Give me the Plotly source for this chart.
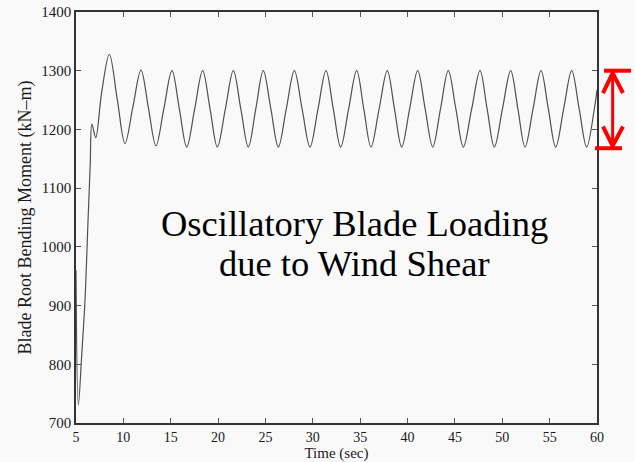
import plotly.graph_objects as go

# Time (sec) and blade root bending moment (kN-m)
time_s = [5.0, 5.25, 5.6, 5.95, 6.27, 6.5, 6.68, 7.08, 7.7, 8.52, 9.35, 10.17, 11.0, 11.86,
          12.65, 13.44, 14.28, 15.13, 15.91, 16.69, 17.53, 18.37, 19.15, 19.92, 20.77, 21.61,
          22.4, 23.19, 23.98, 24.77, 25.57, 26.36, 27.2, 28.05, 28.87, 29.7, 30.55, 31.39,
          32.16, 32.94, 33.78, 34.63, 35.38, 36.14, 37.0, 37.86, 38.62, 39.38, 40.22, 41.07,
          41.86, 42.66, 43.48, 44.3, 45.1, 45.89, 46.77, 47.65, 48.4, 49.16, 50.02, 50.89,
          51.65, 52.4, 53.25, 54.09, 54.86, 55.64, 56.48, 57.33, 58.12, 58.91, 59.72, 60.0]
moment = [960, 731, 815, 909, 1045, 1140, 1209, 1186, 1262, 1328, 1252, 1176, 1238, 1301,
          1236, 1172, 1236, 1300, 1235, 1170, 1235, 1300, 1235, 1170, 1235, 1300,
          1235, 1170, 1235, 1300, 1235, 1170, 1235, 1300, 1235, 1170, 1235, 1300,
          1235, 1170, 1235, 1300, 1235, 1170, 1235, 1300, 1235, 1170, 1235, 1300,
          1235, 1170, 1235, 1300, 1235, 1170, 1235, 1300, 1235, 1170, 1235, 1300,
          1235, 1170, 1235, 1300, 1235, 1170, 1235, 1300, 1235, 1170, 1235, 1267]

x_ticks = [5, 10, 15, 20, 25, 30, 35, 40, 45, 50, 55, 60]
y_ticks = [700, 800, 900, 1000, 1100, 1200, 1300, 1400]
range_top = 1300
range_bottom = 1168

serif = "Liberation Serif"
bg = "#f9f9f9"

fig = go.Figure()
fig.add_trace(go.Scatter(x=time_s, y=moment, mode="lines",
                         line=dict(color="#505050", width=1.2, shape="spline", smoothing=1.0),
                         showlegend=False, hoverinfo="skip"))

axis_common = dict(showline=True, linecolor="#333333", linewidth=1.5, mirror="ticks",
                   ticks="inside", ticklen=5, tickcolor="#555555", tickwidth=1,
                   showgrid=False, zeroline=False, automargin=False)

fig.update_layout(
    width=635, height=462,
    margin=dict(l=76, r=38, t=12, b=39),
    paper_bgcolor=bg, plot_bgcolor=bg,
    xaxis=dict(range=[5, 60], tickvals=x_ticks, **axis_common,
               tickfont=dict(family=serif, size=14, color="#1a1a1a"),
               title=dict(text="Time (sec)", font=dict(family=serif, size=15, color="#1a1a1a"),
                          standoff=2)),
    yaxis=dict(range=[700, 1400], tickvals=y_ticks, **axis_common,
               tickfont=dict(family=serif, size=15, color="#1a1a1a"),
               title=dict(text="Blade Root Bending Moment (kN\u2013m)",
                          font=dict(family=serif, size=18, color="#1a1a1a"), standoff=5)),
)

fig.add_annotation(x=34.35, y=1039, xref="x", yref="y", text="Oscillatory Blade Loading",
                   showarrow=False, font=dict(family=serif, size=36.5, color="#000000"))
fig.add_annotation(x=34.35, y=971, xref="x", yref="y", text="due to Wind Shear",
                   showarrow=False, font=dict(family=serif, size=36.5, color="#000000"))

red = "#ff0000"
# range bars
fig.add_shape(type="line", xref="paper", yref="y", x0=1.0134, x1=1.0653,
              y0=range_top, y1=range_top, line=dict(color=red, width=4))
fig.add_shape(type="line", xref="paper", yref="y", x0=0.9962, x1=1.048,
              y0=range_bottom, y1=range_bottom, line=dict(color=red, width=4))
# shaft
fig.add_shape(type="line", xref="paper", yref="y", x0=1.030, x1=1.030,
              y0=range_top - 4, y1=range_bottom + 4, line=dict(color=red, width=3))
# arrow heads
fig.add_shape(type="path", xref="paper", yref="y",
              path="M 1.0115 1262 L 1.030 1296 L 1.0499 1262",
              line=dict(color=red, width=4))
fig.add_shape(type="path", xref="paper", yref="y",
              path="M 1.0115 1205 L 1.030 1172 L 1.0499 1205",
              line=dict(color=red, width=4))

fig.write_html("out.html")
